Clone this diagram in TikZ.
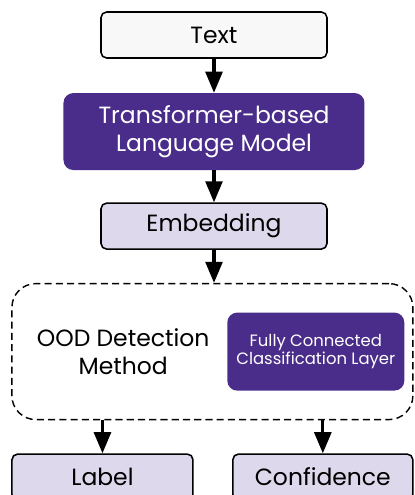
\documentclass[tikz,border=0pt]{standalone}
\usepackage{fontspec}
\setmainfont{Poppins}
\usepackage{tikz}
\usetikzlibrary{shapes.geometric, arrows.meta, positioning, calc}

\definecolor{deeppurple}{HTML}{4A2D8A}
\definecolor{lavender}{HTML}{DDD8EB}
\definecolor{offwhite}{HTML}{F8F8F8}

\begin{document}
\begin{tikzpicture}[
        node distance=0.825cm and 1cm,
        >={Triangle[length=15pt,width=12pt]},
        font=\fontsize{16.7}{20}\selectfont,
        % Box styles
        io/.style={rectangle, rounded corners=4pt, draw=black, line width=1.1pt, fill=lavender, minimum width=5.65cm, minimum height=1.15cm, text centered},
        model/.style={rectangle, rounded corners=7pt, fill=deeppurple, text=white, align=center, inner sep=0pt},
        group/.style={rectangle, rounded corners=17pt, draw=black, line width=1pt, dash pattern=on 5pt off 3pt, minimum width=10.025cm, minimum height=3.4cm},
        arrow/.style={line width=2.2pt, ->}
    ]

    \useasboundingbox (-5.35,0.875) rectangle (5.025,-11.5);

    % --- 1. NODES ---
    \node[io, fill=offwhite] (text) {Text};

    \node[model, minimum width=7.525cm, minimum height=1.925cm, below=0.85cm of text] (lm) {Transformer-based\\Language Model};

    \node[io, below=0.8cm of lm] (emb) {Embedding};

    \node[group, below=0.825cm of emb, xshift=-0.04cm] (ood) {};

    \node[align=center] (oodtxt) at ([xshift=2.8cm]ood.west) {OOD Detection\\Method};

    \node[model, font=\fontsize{11.7}{13.2}\selectfont, minimum width=4.425cm, minimum height=1.95cm, left=0.225cm of ood.east] (fc) {Fully Connected\\Classification Layer};

    \node[io, minimum width=4.525cm, below=0.825cm of ood.south west, anchor=north west] (label) {Label};

    \node[io, minimum width=4.5cm, below=0.825cm of ood.south east, anchor=north east] (conf) {Confidence};

    % --- 2. ARROWS ---
    \draw[arrow] (text) -- (lm);
    \draw[arrow] (lm) -- (emb);
    \draw[arrow] (emb) -- (emb |- ood.north);

    % Outputs
    \draw[arrow] (label.north |- ood.south) -- (label);
    \draw[arrow] (conf.north |- ood.south) -- (conf);

\end{tikzpicture}
\end{document}
